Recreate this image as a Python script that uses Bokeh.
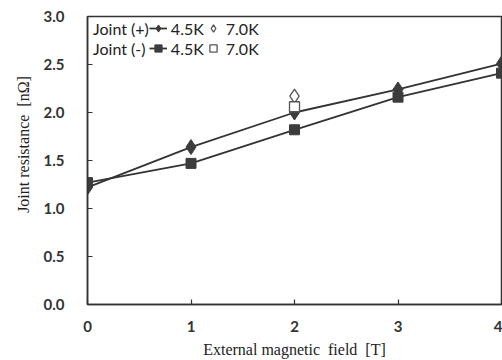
from bokeh.plotting import figure
from bokeh.models import (ColumnDataSource, Range1d, FixedTicker, PrintfTickFormatter,
                          Legend, LegendItem)
from bokeh.embed import file_html
from bokeh.resources import INLINE

# ---- data ----
field_T = [0, 1, 2, 3, 4]
joint_plus_45K = [1.22, 1.64, 2.00, 2.24, 2.51]
joint_minus_45K = [1.27, 1.47, 1.82, 2.16, 2.41]
field_70K = [2]
joint_plus_70K = [2.17]
joint_minus_70K = [2.06]
x_ticks = [0, 1, 2, 3, 4]
y_ticks = [0.0, 0.5, 1.0, 1.5, 2.0, 2.5, 3.0]

INK = "#333333"
MARK = "#3c3c3c"
SANS = "Lato"
SERIF = "Liberation Serif"
NB = "\u00a0"

p = figure(width=502, height=360, output_backend="svg", toolbar_location=None,
           x_range=Range1d(0, 4), y_range=Range1d(0, 3),
           min_border_left=87, min_border_right=1, min_border_top=16, min_border_bottom=56)
p.background_fill_color = "white"
p.border_fill_color = "white"
p.xgrid.visible = False
p.ygrid.visible = False
p.outline_line_color = INK
p.outline_line_width = 1.5

for ax in (p.xaxis[0], p.yaxis[0]):
    ax.axis_line_color = INK
    ax.axis_line_width = 1.5
    ax.major_tick_in = 5
    ax.major_tick_out = 0
    ax.major_tick_line_color = INK
    ax.major_tick_line_width = 1.2
    ax.minor_tick_line_color = None
    ax.major_label_text_font = SANS
    ax.major_label_text_font_size = "15px"
    ax.major_label_text_font_style = "bold"
    ax.major_label_text_color = INK
    ax.axis_label_text_font = SERIF
    ax.axis_label_text_font_size = "16px"
    ax.axis_label_text_font_style = "normal"
    ax.axis_label_text_color = "#222222"

p.xaxis.ticker = FixedTicker(ticks=x_ticks)
p.yaxis.ticker = FixedTicker(ticks=y_ticks)
p.yaxis.formatter = PrintfTickFormatter(format="%.1f")
p.xaxis.axis_label = "External magnetic" + NB + " field" + NB + " [T]"
p.yaxis.axis_label = NB * 8 + "Joint resistance" + NB + " [nΩ]"
p.xaxis.major_label_standoff = 16
p.yaxis.major_label_standoff = 23
p.xaxis.axis_label_standoff = 6
p.yaxis.axis_label_standoff = 9

src_p = ColumnDataSource(dict(x=field_T, y=joint_plus_45K))
src_m = ColumnDataSource(dict(x=field_T, y=joint_minus_45K))
src_p7 = ColumnDataSource(dict(x=field_70K, y=joint_plus_70K))
src_m7 = ColumnDataSource(dict(x=field_70K, y=joint_minus_70K))

lp = p.line("x", "y", source=src_p, line_color=INK, line_width=1.8)
sp = p.scatter("x", "y", source=src_p, marker="diamond", size=15,
               fill_color=MARK, line_color=MARK)
lm = p.line("x", "y", source=src_m, line_color=INK, line_width=1.8)
sm = p.scatter("x", "y", source=src_m, marker="square", size=10,
               fill_color=MARK, line_color=MARK)
sp7 = p.scatter("x", "y", source=src_p7, marker="diamond", size=14,
                fill_color="white", line_color="#555555", line_width=1.3)
sm7 = p.scatter("x", "y", source=src_m7, marker="square", size=10,
                fill_color="white", line_color="#555555", line_width=1.3)

dummy = p.scatter(x=[], y=[], alpha=0)

# items are laid out column by column
legend = Legend(items=[
    LegendItem(label="Joint (+)", renderers=[dummy]),
    LegendItem(label="Joint (-)", renderers=[dummy]),
    LegendItem(label="4.5K", renderers=[lp, sp]),
    LegendItem(label="4.5K", renderers=[lm, sm]),
    LegendItem(label="7.0K", renderers=[sp7]),
    LegendItem(label="7.0K", renderers=[sm7]),
], ncols=3, location=(-16, 246))
legend.background_fill_alpha = 0
legend.border_line_alpha = 0
legend.padding = 0
legend.margin = 0
legend.spacing = 0
legend.glyph_width = 18
legend.glyph_height = 20
legend.label_height = 18
legend.label_standoff = 4
legend.label_text_font = SANS
legend.label_text_font_size = "16px"
legend.label_text_color = "#222222"
p.add_layout(legend, "center")

open("out.html", "w").write(file_html(p, INLINE))
